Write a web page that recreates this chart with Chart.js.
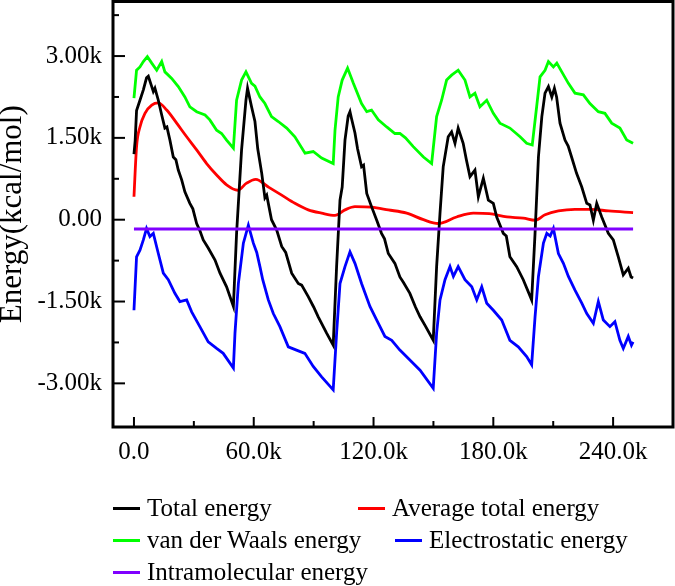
<!DOCTYPE html>
<html><head><meta charset="utf-8">
<script src="https://cdn.jsdelivr.net/npm/chart.js@4.4.1/dist/chart.umd.min.js"></script>
<style>
html,body{margin:0;padding:0;background:#fff;}
#wrap{position:relative;width:675px;height:586px;overflow:hidden;}
#c{position:absolute;left:0;top:0;}
#legend{position:absolute;left:0;top:0;width:675px;height:586px;pointer-events:none;font-family:"Liberation Serif","Times New Roman",serif;font-size:25px;color:#000;}
.item{position:absolute;display:flex;align-items:center;white-space:nowrap;height:32px;line-height:32px;}
.sw{display:inline-block;width:27px;height:3px;margin-right:7px;}
</style></head>
<body><div id="wrap"><canvas id="c" width="675" height="586"></canvas><div id="legend"></div></div>
<script>
// ---- data (x in thousands of steps, energy in k kcal/mol) ----
const seriesLabels = ['Total energy','Average total energy','van der Waals energy','Electrostatic energy','Intramolecular energy'];
const seriesColors = ['#000000','#ff0000','#00ff00','#0000ff','#8000ff'];

const totalEnergy = [[0,1.2],[0.6,1.45],[1.3,2.0],[3,2.19],[4.7,2.38],[6.3,2.6],[7.2,2.63],[8.9,2.44],[9.7,2.35],[10.5,2.41],[12.2,2.19],[13.9,1.92],[15.5,1.68],[16.5,1.7],[18,1.46],[19.7,1.15],[21,1.1],[22.2,0.91],[23.9,0.73],[25.5,0.51],[28,0.30],[29.5,0.2],[31.4,-0.07],[33,-0.2],[34.7,-0.37],[37.2,-0.52],[40.6,-0.74],[43.1,-0.98],[46.4,-1.23],[49.8,-1.59],
[51.4,-0.25],[53.9,1.28],[56.1,2.19],[56.9,2.41],[58.9,2.07],[60.6,1.8],[62,1.3],[64,0.85],[65.6,0.4],[66.5,0.45],[68.9,0.0],[71.5,-0.19],[74,-0.49],[76,-0.6],[79,-0.98],[82.3,-1.17],[84,-1.2],[87.3,-1.41],[90,-1.6],[92.3,-1.78],[96.5,-2.08],[99.8,-2.30],
[101.5,-0.86],[103.2,0.36],[104.3,0.6],[105.7,1.46],[107.3,1.9],[108.2,1.98],[109,1.85],[110.7,1.59],[112,1.3],[114,0.97],[115,1.0],[116.6,0.48],[119,0.24],[121.6,-0.01],[124,-0.25],[125.5,-0.35],[127.4,-0.62],[130.7,-0.8],[133.2,-1.05],[135,-1.15],[138.2,-1.35],[141,-1.6],[143.3,-1.78],[146,-1.95],[149.9,-2.21],
[151.6,-0.86],[153.3,0.12],[154.9,0.97],[157.4,1.52],[159.1,1.61],[160.8,1.40],[162.4,1.68],[164.9,1.4],[166.5,1.1],[168.3,0.79],[170.8,0.91],[172.5,0.42],[175,0.76],[177.5,0.36],[180,0.3],[181.7,0.05],[185,-0.25],[186.5,-0.3],[188.3,-0.68],[191.7,-0.86],[195,-1.1],[199.2,-1.47],
[200.9,-0.25],[202.6,1.15],[204.3,1.89],[205.9,2.32],[207.6,2.44],[209.3,2.25],[210.6,2.41],[211.7,2.25],[213.4,1.77],[215.9,1.46],[217.5,1.35],[219.2,1.15],[221.7,0.85],[224.3,0.6],[226.8,0.3],[228.4,0.27],[230.1,-0.01],[231.8,0.3],[234.3,0.05],[237.6,-0.25],[240.1,-0.37],[242.6,-0.68],[245.1,-1.01],[247.6,-0.89],[249,-1.05],[250,-1.07]];

const averageTotalEnergy = [[0,0.42],[1.3,1.34],[3,1.70],[5.5,1.95],[8.9,2.10],[12.2,2.14],[16.4,2.01],[21.4,1.77],[26.4,1.52],[31.4,1.28],[36.4,1.03],[41.4,0.82],[46.4,0.64],[52,0.54],[56.4,0.67],[61,0.74],[67.3,0.6],[74,0.45],[80.6,0.30],[87.3,0.18],[94,0.12],[100.7,0.08],[105.7,0.18],[110.7,0.24],[119,0.23],[127.4,0.18],[136.6,0.12],[145,0.0],[152.4,-0.07],[161.6,0.05],[170,0.12],[178,0.11],[186.8,0.05],[195,0.03],[200.9,-0.01],[205.9,0.09],[212.6,0.16],[220.9,0.19],[229.3,0.19],[237.7,0.16],[250,0.13]];

const vdwEnergy = [[0,2.23],[1.3,2.74],[3,2.80],[4.7,2.90],[6.7,2.99],[8.9,2.87],[11.4,2.74],[13.9,2.90],[15.5,2.71],[18.9,2.59],[22.2,2.44],[25.5,2.25],[28,2.07],[31.4,1.98],[35.6,1.92],[38,1.83],[41.4,1.64],[43.9,1.58],[46.4,1.46],[49.8,1.31],
[51.4,2.19],[53.9,2.56],[56.1,2.71],[58.9,2.50],[60.6,2.45],[63.1,2.25],[65.6,2.13],[68.9,1.89],[72.3,1.80],[76.5,1.68],[80.6,1.52],[85.7,1.22],[89.8,1.25],[94,1.13],[99.8,1.03],
[100.7,1.64],[102.3,2.25],[104.3,2.56],[107,2.78],[109.9,2.50],[114,2.13],[116.6,1.98],[119,2.01],[122.4,1.83],[126.6,1.70],[130.7,1.58],[133.2,1.58],[136,1.5],[139.9,1.34],[145,1.15],[149.1,1.03],
[151.6,1.89],[154.1,2.19],[156.6,2.56],[159.1,2.65],[162.4,2.74],[165.8,2.56],[168.3,2.25],[170.8,2.32],[173.3,2.07],[176.7,2.19],[180,1.95],[183.3,1.77],[188.3,1.68],[193.4,1.52],[196.7,1.40],[199.5,1.37],
[201.7,2.07],[203.4,2.62],[205.9,2.74],[207.6,2.90],[210.1,2.80],[211.8,2.87],[214.3,2.71],[217.6,2.50],[220.9,2.32],[225.1,2.29],[228.4,2.13],[232.6,1.98],[235.9,1.95],[239.3,1.77],[243.4,1.68],[246.8,1.46],[250,1.40]];

const electrostaticEnergy = [[0,-1.66],[1.3,-0.68],[3,-0.56],[4.7,-0.37],[6.3,-0.16],[8,-0.31],[9.7,-0.25],[12.2,-0.62],[14.7,-0.98],[17.2,-1.1],[20.5,-1.35],[23,-1.5],[26.4,-1.47],[28.9,-1.69],[33,-1.96],[37.2,-2.24],[41.4,-2.36],[44.7,-2.45],[49.8,-2.72],
[50.6,-2.08],[52.3,-1.17],[54.8,-0.43],[57.3,-0.1],[59.8,-0.43],[61.5,-0.6],[63.1,-0.86],[64.5,-1.1],[67.3,-1.47],[69.8,-1.72],[73.1,-1.96],[77.3,-2.33],[81.4,-2.39],[85.6,-2.45],[89.8,-2.69],[94,-2.88],[99.8,-3.12],
[101.5,-2.08],[103.2,-1.17],[105.7,-0.86],[108.2,-0.59],[110.7,-0.80],[114,-1.17],[118.2,-1.59],[121.6,-1.84],[125.7,-2.14],[129.1,-2.21],[133.2,-2.39],[138.2,-2.57],[143.3,-2.76],[149.9,-3.09],
[151.6,-2.08],[153.3,-1.47],[155.8,-1.1],[158.3,-0.86],[160,-1.04],[162.4,-0.86],[165.8,-1.1],[169.2,-1.23],[171.7,-1.47],[174.2,-1.23],[176.7,-1.53],[180,-1.66],[184.2,-1.84],[188.3,-2.21],[192.5,-2.33],[196.7,-2.51],[199.2,-2.66],
[200.9,-1.78],[202.6,-1.04],[205.1,-0.43],[206.8,-0.25],[208.5,-0.3],[210.1,-0.16],[212.6,-0.62],[215.1,-0.8],[217.6,-1.04],[220.9,-1.29],[224.3,-1.53],[226.8,-1.72],[230.1,-1.90],[232.6,-1.50],[235.1,-1.84],[238.4,-1.96],[240.9,-1.87],[243.4,-2.21],[245.1,-2.36],[247.6,-2.14],[249.2,-2.30],[250,-2.24]];

const intramolecularEnergy = [[0,-0.17],[50,-0.17],[100,-0.17],[150,-0.17],[200,-0.17],[250,-0.17]];

const xTickValues = [0,60,120,180,240];
const xTickLabels = ['0.0','60.0k','120.0k','180.0k','240.0k'];
const xMinorTicks = [30,90,150,210];
const yTickValues = [-3,-1.5,0,1.5,3];
const yTickLabels = ['-3.00k','-1.50k','0.00','1.50k','3.00k'];
const yMinorTicks = [-2.25,-0.75,0.75,2.25,3.75];

// ---- chart ----
const FONT = '"Liberation Serif","Times New Roman",serif';
const toPts = arr => arr.map(p => ({x: p[0], y: p[1]}));

const frameTicks = {
  id: 'frameTicks',
  afterDraw(chart) {
    const {ctx, chartArea: a, scales: {x, y}} = chart;
    ctx.save();
    ctx.strokeStyle = '#000';
    ctx.lineWidth = 2;
    const seg = (x1, y1, x2, y2) => { ctx.beginPath(); ctx.moveTo(x1, y1); ctx.lineTo(x2, y2); ctx.stroke(); };
    xTickValues.forEach(v => { const p = x.getPixelForValue(v); seg(p, a.bottom, p, a.bottom - 10); });
    xMinorTicks.forEach(v => { const p = x.getPixelForValue(v); seg(p, a.bottom, p, a.bottom - 6); });
    yTickValues.forEach(v => { const p = y.getPixelForValue(v); seg(a.left, p, a.left + 12, p); });
    yMinorTicks.forEach(v => { const p = y.getPixelForValue(v); seg(a.left, p, a.left + 6, p); });
    ctx.lineWidth = 3;
    ctx.strokeRect(a.left, a.top, a.right - a.left, a.bottom - a.top);
    ctx.restore();
  }
};

const mk = (data, i, extra) => Object.assign({
  label: seriesLabels[i], data: toPts(data), borderColor: seriesColors[i], backgroundColor: seriesColors[i],
  borderWidth: 2.8, pointRadius: 0, tension: 0, fill: false
}, extra || {});

const chart = new Chart(document.getElementById('c'), {
  type: 'line',
  data: {
    datasets: [
      mk(totalEnergy, 0),
      mk(averageTotalEnergy, 1, {cubicInterpolationMode: 'monotone'}),
      mk(vdwEnergy, 2),
      mk(electrostaticEnergy, 3),
      mk(intramolecularEnergy, 4, {order: -1})
    ]
  },
  options: {
    responsive: false, animation: false, devicePixelRatio: 1,
    layout: {padding: {left: 0, right: 2, top: 1.5, bottom: 0}},
    plugins: {legend: {display: false}, tooltip: {enabled: false}},
    scales: {
      x: {
        type: 'linear', min: -10.5, max: 270,
        afterBuildTicks: s => { s.ticks = xTickValues.map(v => ({value: v})); },
        afterFit: s => { s.height = 159; s.paddingLeft = 0; s.paddingRight = 0; },
        grid: {display: false, drawTicks: false}, border: {display: false},
        ticks: {font: {family: FONT, size: 25}, color: '#000', padding: 10, maxRotation: 0, autoSkip: false,
                callback: (v, i) => xTickLabels[i]}
      },
      y: {
        type: 'linear', min: -3.8, max: 4.0,
        afterBuildTicks: s => { s.ticks = yTickValues.map(v => ({value: v})); },
        afterFit: s => { s.width = 113; s.paddingTop = 0; s.paddingBottom = 0; },
        grid: {display: false, drawTicks: false}, border: {display: false},
        ticks: {font: {family: FONT, size: 25}, color: '#000', padding: 11, autoSkip: false,
                callback: (v, i) => yTickLabels[i]},
        title: {display: true, text: 'Energy(kcal/mol)', color: '#000',
                font: {family: FONT, size: 31, lineHeight: 0.85}, padding: 0}
      }
    }
  },
  plugins: [frameTicks]
});

// ---- HTML legend built from the datasets ----
const legendSlots = [[113,492],[358,492],[113,524],[395,524],[113,556]];
const legendEl = document.getElementById('legend');
chart.data.datasets.forEach((ds, i) => {
  const it = document.createElement('div');
  it.className = 'item';
  it.style.left = legendSlots[i][0] + 'px';
  it.style.top = legendSlots[i][1] + 'px';
  const sw = document.createElement('span');
  sw.className = 'sw';
  sw.style.background = ds.borderColor;
  const tx = document.createElement('span');
  tx.textContent = ds.label;
  it.appendChild(sw); it.appendChild(tx);
  legendEl.appendChild(it);
});
</script>
</body></html>
